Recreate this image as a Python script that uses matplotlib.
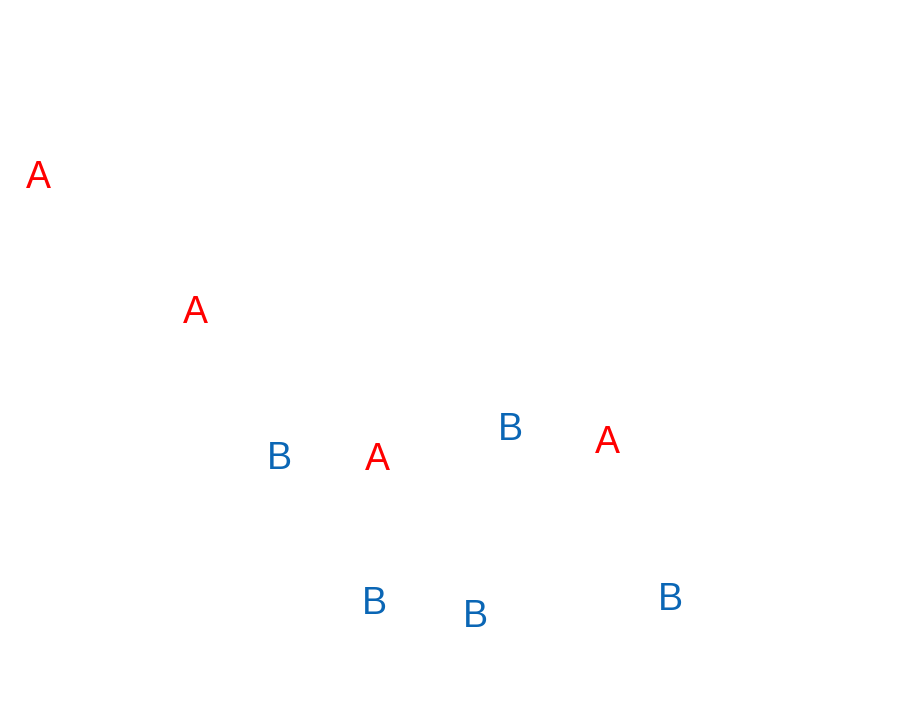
import matplotlib
matplotlib.use("Agg")
import matplotlib.pyplot as plt

# label positions (x, y) in chart units (y increases downward like reference)
a_x = [38, 195, 377, 607]
a_y = [174, 309, 456, 439]
b_x = [279, 510, 374, 475, 670]
b_y = [455, 426, 600, 613, 596]
labels_a = ["A"] * len(a_x)
labels_b = ["B"] * len(b_x)

fig = plt.figure(figsize=(9.04, 7.06), dpi=100)
ax = fig.add_axes([0, 0, 1, 1])
ax.set_xlim(0, 904)
ax.set_ylim(706, 0)
ax.axis("off")

for x, y, t in zip(a_x, a_y, labels_a):
    ax.text(x, y, t, color="#ff0000", fontsize=27, family="Liberation Sans",
            ha="center", va="center_baseline")
for x, y, t in zip(b_x, b_y, labels_b):
    ax.text(x, y, t, color="#0a66b5", fontsize=27, family="Liberation Sans",
            ha="center", va="center_baseline")

fig.savefig("out.png", dpi=100, facecolor="white")
